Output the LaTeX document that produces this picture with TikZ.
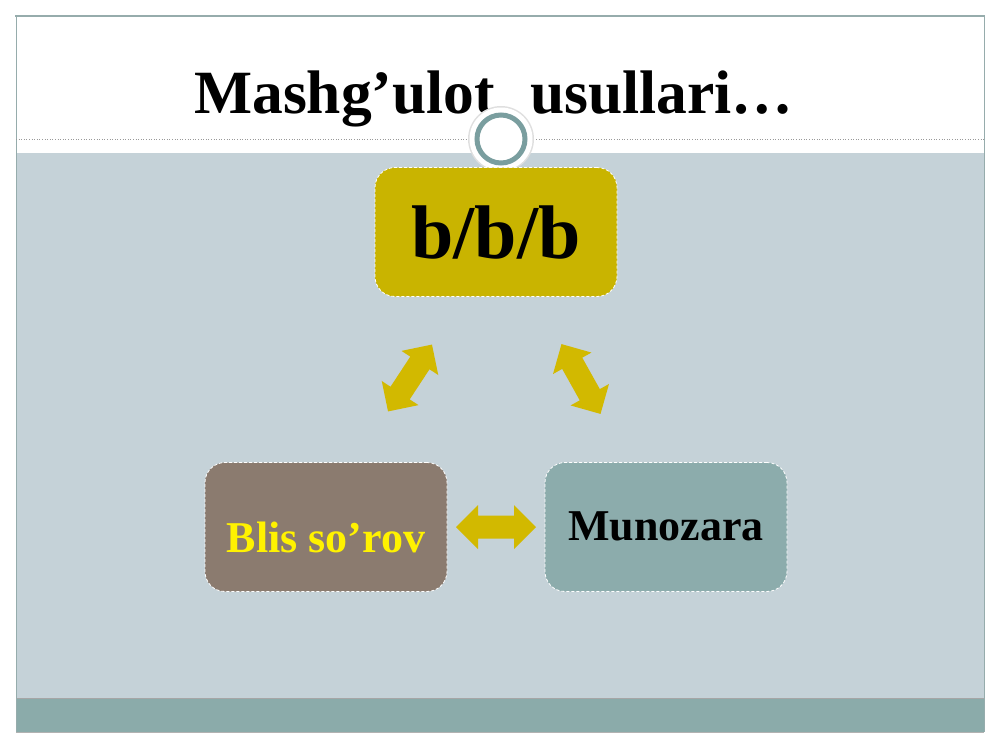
\documentclass[tikz,border=0pt]{standalone}
\usepackage{fontspec}
\setmainfont{Liberation Serif}
\usetikzlibrary{calc}
\definecolor{bandgray}{RGB}{197,210,216}
\definecolor{bandteal}{RGB}{139,171,170}
\definecolor{framecol}{RGB}{150,172,172}
\definecolor{topfill}{RGB}{201,180,0}
\definecolor{arrowfill}{RGB}{210,185,0}
\definecolor{leftfill}{RGB}{139,123,111}
\definecolor{rightfill}{RGB}{140,172,172}
\definecolor{ringcol}{RGB}{122,158,159}
\tikzset{
  box/.style={draw=white, densely dashed, line width=0.8pt, rounded corners=20pt,
    minimum width=242pt, minimum height=129pt, inner sep=0pt, font=\bfseries},
  dblarrow/.pic={
    \fill[arrowfill] (-40,0) -- (-18,22) -- (-18,11.5) -- (18,11.5) -- (18,22) -- (40,0)
      -- (18,-22) -- (18,-11.5) -- (-18,-11.5) -- (-18,-22) -- cycle;
  }
}
\begin{document}
\begin{tikzpicture}[x=1pt,y=-1pt]
\useasboundingbox (0,0) rectangle (1000,750);
\fill[white] (0,0) rectangle (1000,750);
% slide areas
\fill[bandgray] (16,153) rectangle (984,698);
\fill[bandteal] (16,698) rectangle (984,732);
\draw[gray!70, line width=0.6pt] (16,698) -- (984,698);
\draw[gray!60, line width=0.6pt] (16,732) -- (984,732);
\draw[framecol, line width=0.6pt] (16,16) -- (16,732);
\draw[framecol, line width=0.6pt] (984,16) -- (984,732);
\draw[framecol, line width=1.8pt] (15,16) -- (985,16);
\draw[gray!80, dotted, line width=0.6pt] (16,139) -- (984,139);
% title
\node[anchor=base west, inner sep=0pt, font=\fontsize{61.5}{66}\selectfont\bfseries] (title) at (194,113) {Mashg’ulot\hspace{20pt} usullari…};
% circle ornament
\fill[gray!25] (501,139) circle (33);
\fill[white] (501,139) circle (31.5);
\draw[ringcol, line width=5pt] (501,139) circle (24);
% boxes
\node[box, fill=topfill, text height=52pt, text depth=0pt, font=\fontsize{76}{80}\selectfont\bfseries] (bbb) at (496,232) {b/b/b};
\node[box, fill=leftfill, text=yellow, text height=51pt, text depth=0pt, font=\fontsize{44}{48}\selectfont\bfseries] (blis) at (326,527) {Blis so’rov};
\node[box, fill=rightfill, text=black, text height=27pt, text depth=0pt, font=\fontsize{44}{48}\selectfont\bfseries] (mun) at (666,527) {Munozara};
% double arrows
\pic[rotate=56.7] (a1) at (410,378) {dblarrow};
\pic[rotate=-60.8] (a2) at (581,379) {dblarrow};
\pic (a3) at ($(blis.east)!0.5!(mun.west)$) {dblarrow};
\end{tikzpicture}
\end{document}
